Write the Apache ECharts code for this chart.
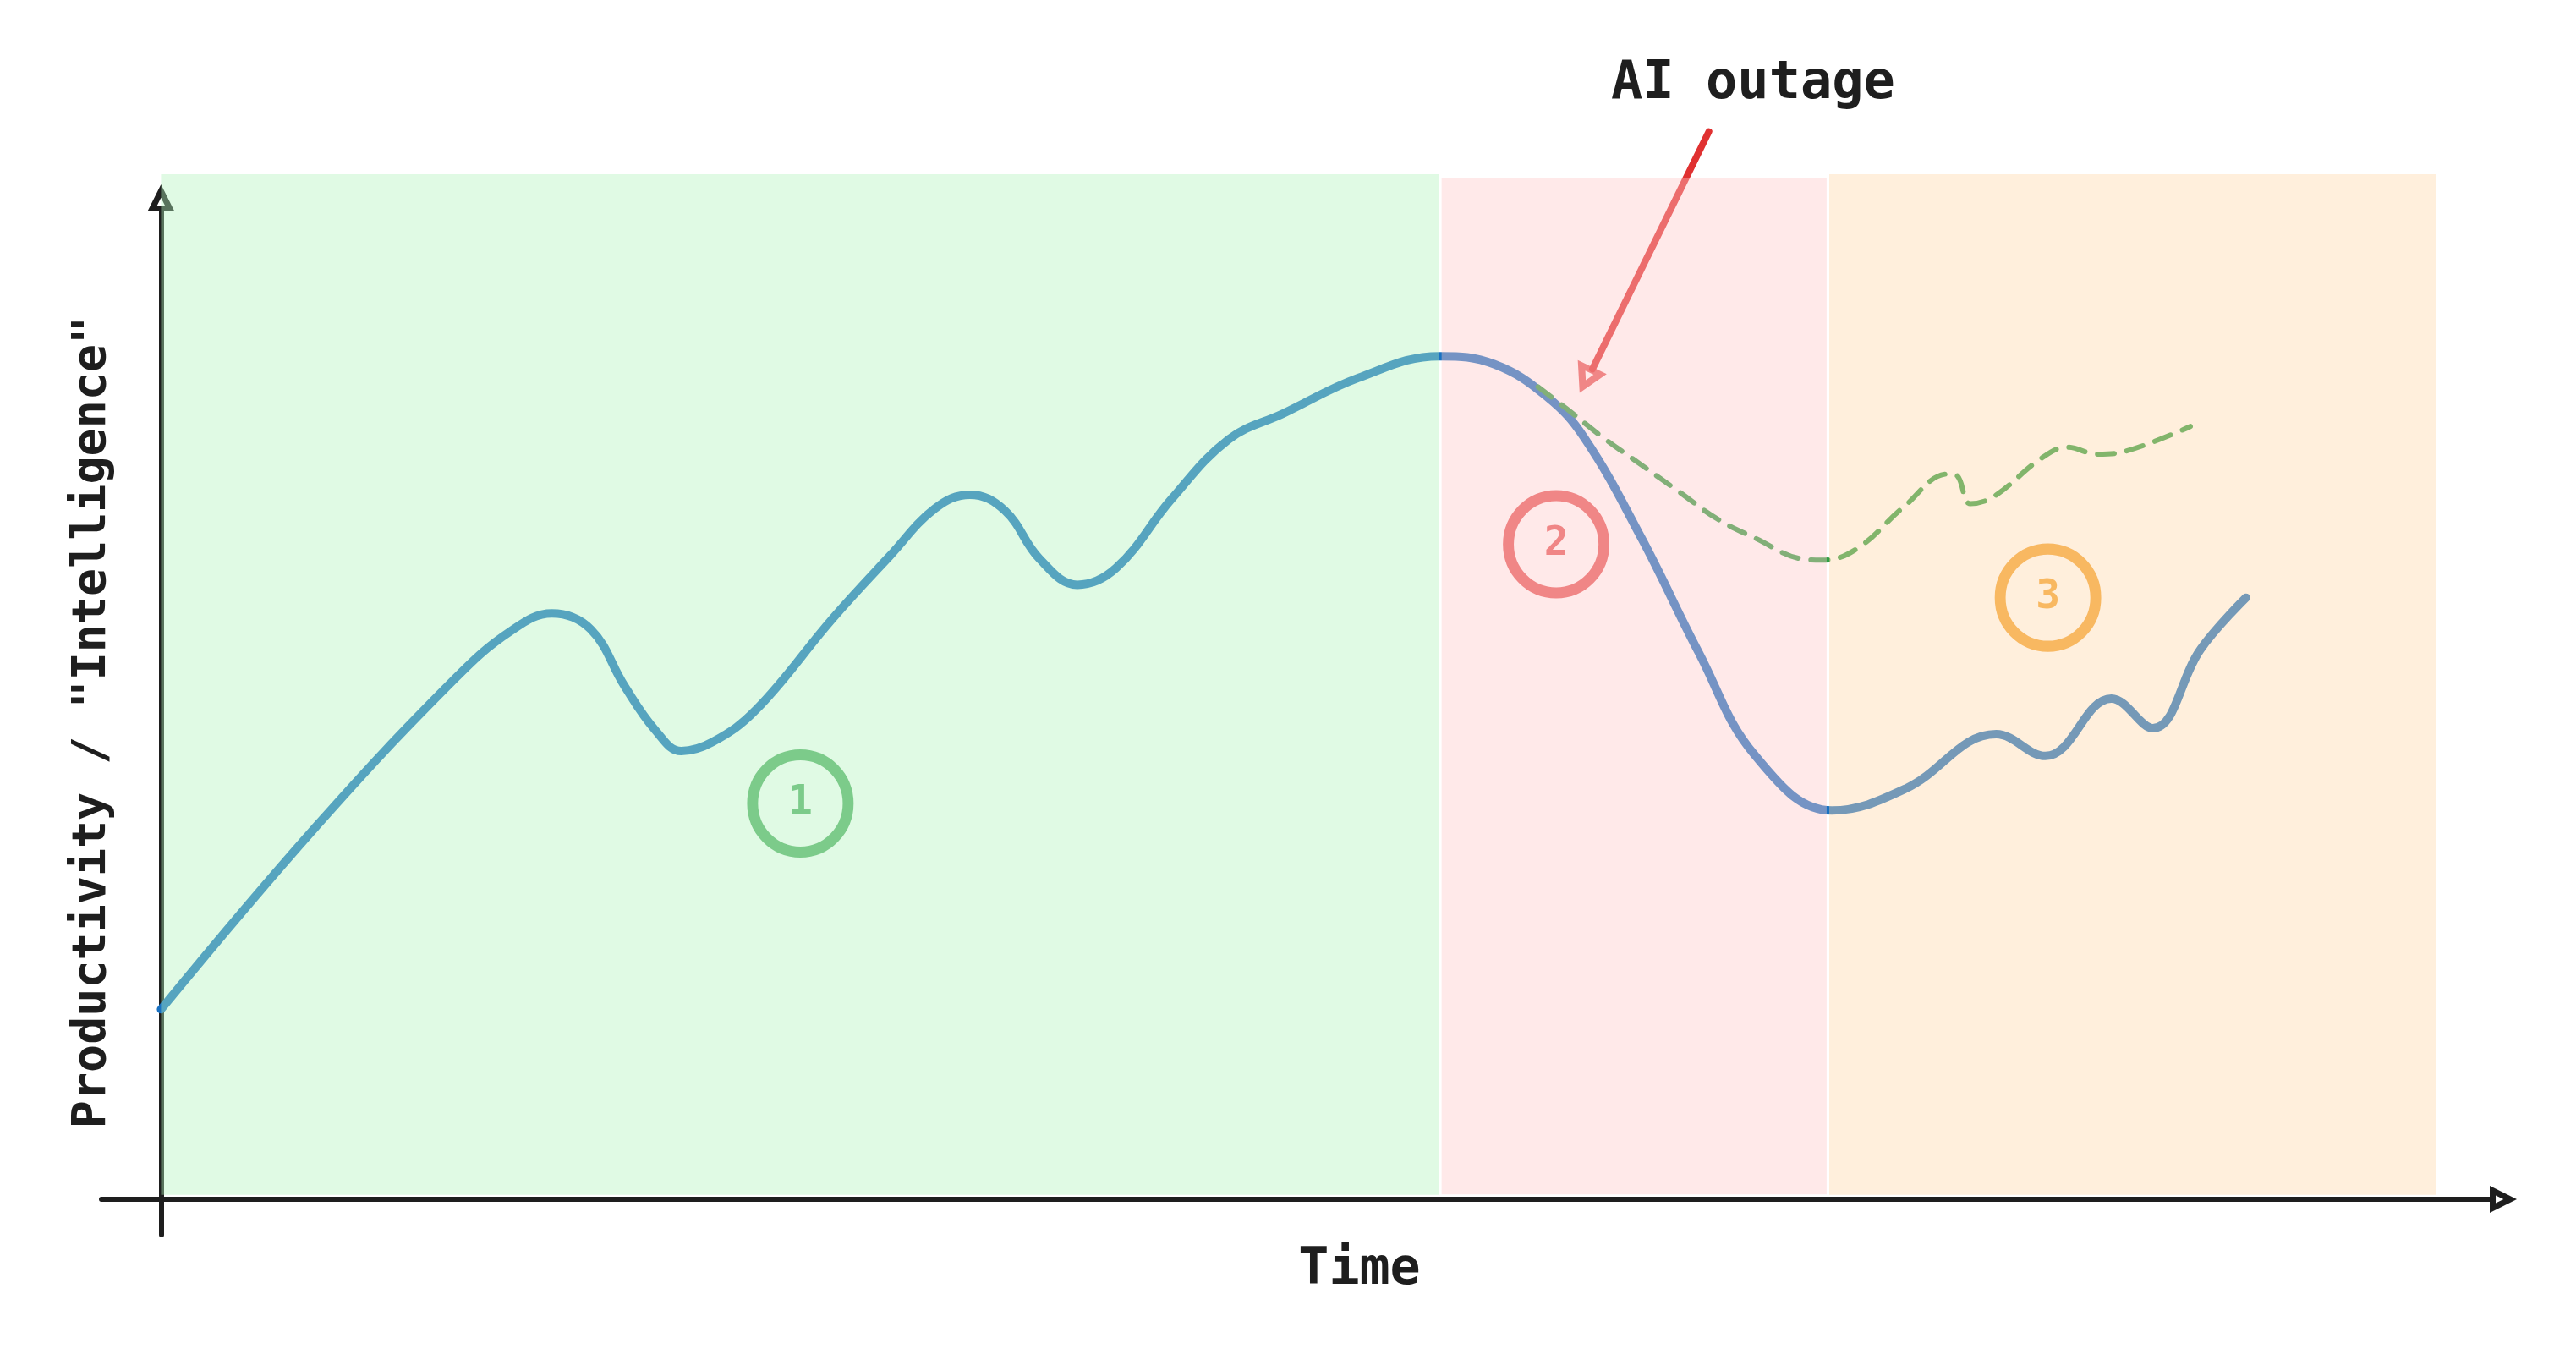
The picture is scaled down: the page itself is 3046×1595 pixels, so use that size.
<!DOCTYPE html>
<html><head><meta charset="utf-8">
<script src="https://cdn.jsdelivr.net/npm/echarts@6/dist/echarts.min.js"></script>
<style>html,body{margin:0;padding:0;background:#fff}#c{width:3046px;height:1595px}</style>
</head><body><div id="c"></div>
<script>
// ---- data ----
const timeMain = [0, 12.0, 22.7, 27.0, 30.2, 33.2, 35.8, 38.2, 40.2, 42.6, 46.0, 51.9, 56.3, 59.8, 62.5, 65.2, 67.9, 70.8, 73.8, 78.1, 82.5, 86.7, 92.5, 98.8, 103.0, 107.1, 110.0, 114.4, 118.8, 123.2, 129.1, 134.8, 141.8, 145.6, 150.7, 153.9, 157.6, 161.1];
const productivity = [19.2, 37.7, 52.6, 57.4, 59.2, 57.6, 51.9, 47.4, 45.3, 46.2, 49.5, 58.7, 65.0, 69.8, 71.2, 69.6, 64.7, 62.1, 63.8, 70.8, 76.8, 79.4, 83.0, 85.2, 84.4, 81.1, 76.9, 66.8, 55.3, 44.8, 39.3, 41.5, 47.0, 44.8, 50.6, 47.6, 55.6, 60.8];
const timeAlt = [106.4, 108.6, 111.5, 114.4, 117.3, 120.2, 123.2, 126.9, 128.4, 131.1, 134.6, 138.1, 138.8, 139.8, 141.6, 145.3, 147.3, 149.6, 151.8, 156.8];
const productivityAlt = [82.1, 79.9, 76.9, 74.2, 71.5, 68.8, 66.8, 64.7, 64.6, 65.8, 69.9, 73.3, 73.1, 70.3, 71.0, 74.9, 76.0, 75.3, 75.6, 78.1];
const phaseStart = [0, 98.95, 128.9];
const phaseEnd = [98.75, 128.7, 175.8];
const phaseBottom = [0.45, 0.5, 0.45];
const phaseTop = [103.6, 103.2, 103.6];
const phaseLabels = ['1', '2', '3'];
const phaseLabelX = [49.4, 107.8, 145.8];
const phaseLabelY = [40.0, 66.2, 60.8];
const outageArrowTail = [119.6, 107.9];
const outageArrowBase = [110.6, 83.9];
const outageArrowHead = [110.1, 82.8];
const outageText = 'AI outage';
const xTitle = 'Time';
const yTitle = 'Productivity / "Intelligence"';

// ---- styles ----
const FONT = '"DejaVu Sans Mono", monospace';
const INK = '#1e1e1e';
const bandFill = ['rgba(178,242,187,0.4)', 'rgba(255,201,201,0.4)', 'rgba(255,216,168,0.4)'];
const phaseColors = ['#2f9e44', '#e03131', '#f08c00'];
const ARROW = 'path://M50 0 L100 100 L0 100 Z M50 49 L35.6 78 L64.4 78 Z';

const chart = echarts.init(document.getElementById('c'), null, {renderer: 'canvas'});

const bandData = phaseStart.map((s, i) => [s, phaseEnd[i], phaseBottom[i], phaseTop[i]]);
const markerData = phaseLabels.map((n, i) => ({
  name: n,
  value: [phaseLabelX[i], phaseLabelY[i]],
  itemStyle: {color: 'rgba(0,0,0,0)', borderColor: phaseColors[i], borderWidth: 13},
  label: {show: true, position: 'inside', formatter: '{b}', fontFamily: FONT, fontSize: 48, fontWeight: 'bold', color: phaseColors[i]}
}));

const option = {
  animation: false,
  backgroundColor: '#ffffff',
  title: {
    text: outageText, left: 1900, top: 64,
    textStyle: {fontFamily: FONT, fontSize: 62, fontWeight: 'bold', color: INK}
  },
  grid: {left: 120, right: 101, top: 248, bottom: 135, containLabel: false, outerBoundsMode: 'none'},
  xAxis: {
    type: 'value', min: -4.6, max: 180,
    name: xTitle, nameLocation: 'middle', nameGap: 12,
    nameTextStyle: {fontFamily: FONT, fontSize: 60, fontWeight: 'bold', color: INK, padding: [0, 0, 0, 150]},
    axisLine: {show: true, onZero: true, symbol: ['none', ARROW], symbolSize: [32, 32], symbolOffset: [0, 15],
      lineStyle: {color: INK, width: 6}},
    axisTick: {show: false}, axisLabel: {show: false}, splitLine: {show: false}
  },
  yAxis: {
    type: 'value', min: -3.59, max: 100,
    name: yTitle, nameLocation: 'middle', nameRotate: 90, nameGap: -17,
    nameTextStyle: {fontFamily: FONT, fontSize: 55, fontWeight: 'bold', color: INK},
    axisLine: {show: true, onZero: true, symbol: ['none', ARROW], symbolSize: [32, 32], symbolOffset: [0, 14],
      lineStyle: {color: INK, width: 6}},
    axisTick: {show: false}, axisLabel: {show: false}, splitLine: {show: false}
  },
  series: [
    {
      type: 'line', z: 2, silent: true, smooth: 0.4, smoothMonotone: 'none', showSymbol: false,
      data: timeMain.map((t, i) => [t, productivity[i]]),
      lineStyle: {color: '#1971c2', width: 10, cap: 'round', join: 'round'}
    },
    {
      type: 'line', z: 2, silent: true, smooth: 0.4, smoothMonotone: 'none', showSymbol: false,
      data: timeAlt.map((t, i) => [t, productivityAlt[i]]),
      lineStyle: {color: '#2f9e44', width: 6, type: [20, 15], cap: 'round'}
    },
    {
      type: 'line', z: 2, silent: true, clip: false, showSymbol: false,
      data: [outageArrowTail, outageArrowBase],
      lineStyle: {color: '#e03131', width: 8, cap: 'round'}
    },
    {
      type: 'scatter', z: 2, silent: true, clip: false,
      data: [outageArrowHead], symbol: ARROW, symbolSize: [38, 34], symbolRotate: 154,
      itemStyle: {color: '#e03131'}
    },
    {
      type: 'scatter', z: 2, silent: true,
      data: markerData, symbol: 'circle', symbolSize: [113, 115]
    },
    {
      type: 'custom', z: 10, silent: true, clip: false,
      data: bandData,
      renderItem: function (params, api) {
        const p0 = api.coord([api.value(0), api.value(3)]);
        const p1 = api.coord([api.value(1), api.value(2)]);
        return {
          type: 'rect',
          shape: {x: p0[0], y: p0[1], width: p1[0] - p0[0], height: p1[1] - p0[1]},
          style: {fill: bandFill[params.dataIndex]}
        };
      }
    }
  ]
};
chart.setOption(option);
</script></body></html>
